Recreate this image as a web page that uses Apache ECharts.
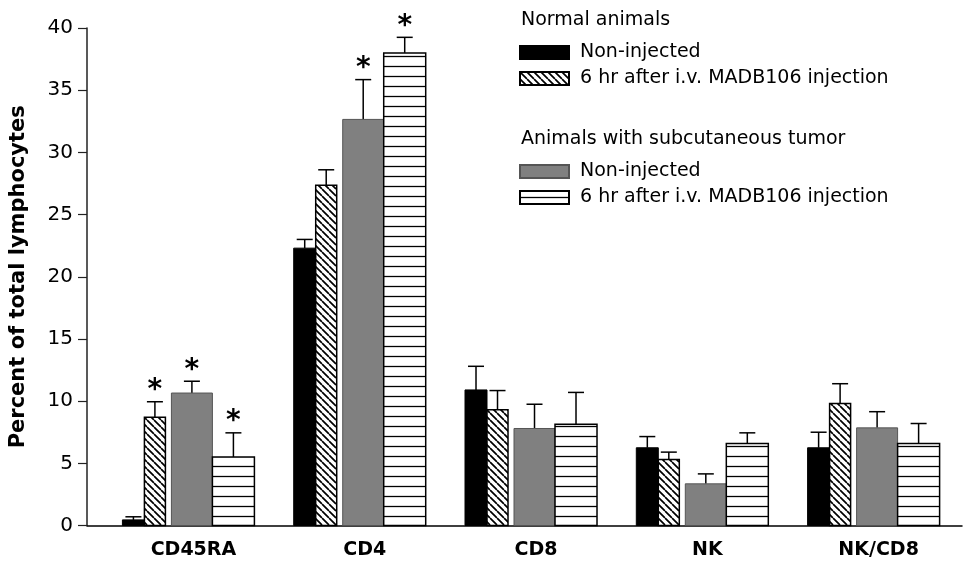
<!DOCTYPE html>
<html>
<head>
<meta charset="utf-8">
<script src="https://cdn.jsdelivr.net/npm/echarts@6/dist/echarts.min.js"></script>
<style>
  html, body { margin: 0; padding: 0; background: #fff; }
  #chart { width: 963px; height: 562px; }
</style>
</head>
<body>
<div id="chart"></div>
<script>
    // categories on the x axis
    const categories = [ 'CD45RA', 'CD4', 'CD8', 'NK', 'NK/CD8' ];
    const tickValues = [ 0, 5, 10, 15, 20, 25, 30, 35, 40 ];

    // mean values (percent of total lymphocytes)
    const normalNon = [ 0.45, 22.3, 10.9, 6.25, 6.25 ];
    const normalInj = [ 8.7, 27.35, 9.3, 5.3, 9.8 ];
    const tumorNon = [ 10.65, 32.65, 7.8, 3.35, 7.85 ];
    const tumorInj = [ 5.5, 38.0, 8.15, 6.6, 6.6 ];

    // upper error (SEM)
    const normalNonSem = [ 0.25, 0.7, 1.9, 0.9, 1.25 ];
    const normalInjSem = [ 1.25, 1.25, 1.55, 0.6, 1.6 ];
    const tumorNonSem = [ 0.95, 3.2, 1.95, 0.8, 1.3 ];
    const tumorInjSem = [ 1.95, 1.25, 2.55, 0.85, 1.6 ];

    // significance markers (*)
    const normalNonSig = [ 0, 0, 0, 0, 0 ];
    const normalInjSig = [ 1, 0, 0, 0, 0 ];
    const tumorNonSig = [ 1, 1, 0, 0, 0 ];
    const tumorInjSig = [ 1, 1, 0, 0, 0 ];

    const FONT = '"DejaVu Sans", "Liberation Sans", Arial, sans-serif';

    // hatch fills
    function makePattern( kind ) {
        const s = kind === 'diag' ? 7 : 10;
        const c = document.createElement( 'canvas' );
        c.width = s;
        c.height = s;
        const ctx = c.getContext( '2d' );
        ctx.fillStyle = '#fff';
        ctx.fillRect( 0, 0, s, s );
        ctx.strokeStyle = '#000';
        ctx.beginPath();
        if ( kind === 'diag' ) {
            ctx.lineWidth = 1.7;
            for ( let k = -1; k <= 1; k++ ) {
                ctx.moveTo( k * s, 0 );
                ctx.lineTo( k * s + s, s );
            }
        } else {
            ctx.lineWidth = 1.3;
            ctx.moveTo( 0, 6.5 );
            ctx.lineTo( s, 6.5 );
        }
        ctx.stroke();
        return { image: c, repeat: 'repeat' };
    }

    function toData( vals, sem, sig ) {
        return vals.map( ( v, i ) => [ i, v, sem[ i ], sig[ i ] ] );
    }

    // bar placement inside a group: left edge offset & width (px)
    function barSeries( name, data, x0, w, itemStyle ) {
        return {
            name: name,
            type: 'custom',
            itemStyle: itemStyle,
            encode: { x: 0, y: 1 },
            data: data,
            renderItem: function( params, api ) {
                const i = api.value( 0 );
                const base = api.coord( [ i, 0 ] );
                const top = api.coord( [ i, api.value( 1 ) ] );
                const err = api.coord( [ i, api.value( 1 ) + api.value( 2 ) ] );
                const left = base[ 0 ] + x0;
                const cx = left + w / 2;
                const children = [ {
                    type: 'line',
                    shape: { x1: cx, y1: top[ 1 ], x2: cx, y2: err[ 1 ] },
                    style: { stroke: '#000', lineWidth: 1.5 }
                }, {
                    type: 'line',
                    shape: { x1: cx - 8, y1: err[ 1 ], x2: cx + 8, y2: err[ 1 ] },
                    style: { stroke: '#000', lineWidth: 1.5 }
                }, {
                    type: 'rect',
                    shape: { x: left, y: top[ 1 ], width: w, height: base[ 1 ] - top[ 1 ] },
                    style: api.style()
                } ];
                if ( api.value( 3 ) ) {
                    children.push( {
                        type: 'text',
                        x: cx,
                        y: err[ 1 ] + 3,
                        style: {
                            text: '*',
                            font: 'bold 28px ' + FONT,
                            fill: '#000',
                            align: 'center',
                            verticalAlign: 'bottom'
                        }
                    } );
                }
                return { type: 'group', children: children };
            }
        };
    }

    const chart = echarts.init( document.getElementById( 'chart' ) );

    chart.setOption( {
        animation: false,
        backgroundColor: '#ffffff',
        title: [ {
            text: 'Normal animals',
            left: 521,
            top: 11,
            padding: 0,
            textStyle: { fontFamily: FONT, fontSize: 19, fontWeight: 'normal', color: '#000' }
        }, {
            text: 'Animals with subcutaneous tumor',
            left: 521,
            top: 130,
            padding: 0,
            textStyle: { fontFamily: FONT, fontSize: 19, fontWeight: 'normal', color: '#000' }
        } ],
        legend: [ {
            data: [ 'Non-injected', '6 hr after i.v. MADB106 injection' ],
            orient: 'vertical',
            left: 519,
            top: 43,
            padding: 0,
            itemGap: 7,
            itemWidth: 49,
            itemHeight: 13,
            icon: 'rect',
            selectedMode: false,
            textStyle: { fontFamily: FONT, fontSize: 19, color: '#000', padding: [ 0, 0, 0, 6 ] }
        }, {
            data: [ 'Non-injected ', '6 hr after i.v. MADB106 injection ' ],
            orient: 'vertical',
            left: 519,
            top: 162,
            padding: 0,
            itemGap: 7,
            itemWidth: 49,
            itemHeight: 13,
            icon: 'rect',
            selectedMode: false,
            textStyle: { fontFamily: FONT, fontSize: 19, color: '#000', padding: [ 0, 0, 0, 6 ] }
        } ],
        grid: {
            left: 86,
            right: 1,
            top: 28,
            bottom: 36.5
        },
        xAxis: {
            type: 'value',
            min: -0.592,
            max: 4.516,
            splitLine: { show: false },
            axisTick: { show: false },
            axisLine: { onZero: false, lineStyle: { color: '#000', width: 1.5 } },
            axisLabel: {
                customValues: categories.map( ( c, i ) => i ),
                formatter: v => categories[ Math.round( v ) ],
                margin: 15,
                padding: [ 0, 0, 0, 10 ],
                fontFamily: FONT,
                fontSize: 19,
                fontWeight: 'bold',
                color: '#000'
            }
        },
        yAxis: {
            type: 'value',
            min: 0,
            max: 40,
            interval: 5,
            name: 'Percent of total lymphocytes',
            nameLocation: 'middle',
            nameGap: 58,
            nameTextStyle: { fontFamily: FONT, fontSize: 21, fontWeight: 'bold', color: '#000' },
            splitLine: { show: false },
            axisLine: { show: true, onZero: false, lineStyle: { color: '#222', width: 1.5 } },
            axisTick: { show: true, length: 9, lineStyle: { color: '#222', width: 1.2 } },
            axisLabel: {
                margin: 14,
                fontFamily: FONT,
                fontSize: 20,
                color: '#000',
                formatter: v => tickValues.indexOf( v ) >= 0 ? String( v ) : ''
            }
        },
        series: [
            barSeries( 'Non-injected', toData( normalNon, normalNonSem, normalNonSig ), -66, 22,
                { color: '#000', borderColor: '#000', borderWidth: 1 } ),
            barSeries( '6 hr after i.v. MADB106 injection', toData( normalInj, normalInjSem, normalInjSig ), -44, 21,
                { color: makePattern( 'diag' ), borderColor: '#000', borderWidth: 1.5 } ),
            barSeries( 'Non-injected ', toData( tumorNon, tumorNonSem, tumorNonSig ), -17, 41,
                { color: '#808080', borderColor: '#555', borderWidth: 1 } ),
            barSeries( '6 hr after i.v. MADB106 injection ', toData( tumorInj, tumorInjSem, tumorInjSig ), 24, 42,
                { color: makePattern( 'horiz' ), borderColor: '#000', borderWidth: 1.5 } )
        ]
    } );
</script>
</body>
</html>
